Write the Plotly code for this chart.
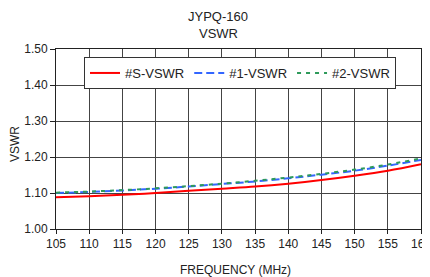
import plotly.graph_objects as go

freq = [105, 110, 115, 120, 125, 130, 135, 140, 145, 150, 155, 160]
s_vswr = [1.088, 1.091, 1.095, 1.100, 1.106, 1.112, 1.118, 1.126, 1.136, 1.148, 1.162, 1.180]
v1_vswr = [1.100, 1.103, 1.107, 1.112, 1.118, 1.125, 1.132, 1.141, 1.151, 1.162, 1.176, 1.192]
v2_vswr = [1.101, 1.104, 1.108, 1.113, 1.119, 1.126, 1.134, 1.143, 1.153, 1.165, 1.179, 1.196]

x_ticks = [105, 110, 115, 120, 125, 130, 135, 140, 145, 150, 155, 160]
y_ticks = [1.00, 1.10, 1.20, 1.30, 1.40, 1.50]

FONT = "Liberation Sans, Arial, sans-serif"
# page has an 8px body margin, so the figure is drawn 8px smaller and offset
OFF = 8
W, HT = 430 - OFF, 277 - OFF
L, R = 56 - OFF, 421 - OFF
T, B = 49 - OFF, 229 - OFF
PW, H = R - L, B - T

fig = go.Figure()
fig.add_trace(go.Scatter(x=freq, y=s_vswr, name="#S-VSWR", mode="lines",
                         line=dict(color="#ff0000", width=2, shape="spline")))
fig.add_trace(go.Scatter(x=freq, y=v1_vswr, name="#1-VSWR", mode="lines",
                         line=dict(color="#3366ff", width=2, dash="8px,4px", shape="spline")))
fig.add_trace(go.Scatter(x=freq, y=v2_vswr, name="#2-VSWR", mode="lines",
                         line=dict(color="#2e9a5a", width=2, dash="4px,5px", shape="spline")))

fig.update_layout(
    width=W, height=HT,
    margin=dict(l=L, r=W - R, t=T, b=HT - B, autoexpand=False),
    paper_bgcolor="white", plot_bgcolor="white",
    font=dict(family=FONT, size=12, color="#222"),
    legend=dict(orientation="h", x=(240 - 56) / PW, xanchor="center", y=1 - 8 / H, yanchor="top",
                bordercolor="#333", borderwidth=1, bgcolor="white",
                font=dict(size=13), tracegroupgap=0),
    showlegend=True,
    annotations=[
        dict(text="JYPQ-160", xref="paper", yref="paper", x=(218 - 56) / PW, y=1.0 + (49 - 17) / H,
             xanchor="center", yanchor="middle", showarrow=False, font=dict(size=13, color="#222")),
        dict(text="VSWR", xref="paper", yref="paper", x=(218 - 56) / PW, y=1.0 + (49 - 33) / H,
             xanchor="center", yanchor="middle", showarrow=False, font=dict(size=13, color="#222")),
        dict(text="VSWR", xref="paper", yref="paper", x=(15 - 56) / PW, y=(229 - 144) / H,
             xanchor="center", yanchor="middle", textangle=-90, showarrow=False,
             font=dict(size=12, color="#222")),
        dict(text="FREQUENCY (MHz)", xref="paper", yref="paper", x=(235 - 56) / PW,
             y=(229 - 270) / H, xanchor="center", yanchor="middle", showarrow=False,
             font=dict(size=12, color="#222")),
    ],
)
fig.update_xaxes(range=[105, 160], tickvals=x_ticks, ticktext=[str(v) for v in x_ticks],
                 showgrid=True, gridcolor="#444", gridwidth=1,
                 showline=True, linecolor="#222", linewidth=1, mirror=True,
                 ticks="outside", ticklen=4, tickcolor="#222",
                 ticklabeloverflow="allow", automargin=False,
                 zeroline=False)
fig.update_yaxes(range=[1.0, 1.5], tickvals=y_ticks, ticktext=[f"{v:.2f}" for v in y_ticks],
                 showgrid=True, gridcolor="#444", gridwidth=1,
                 showline=True, linecolor="#222", linewidth=1, mirror=True,
                 ticks="outside", ticklen=5, tickcolor="#222", automargin=False,
                 zeroline=False)

fig.write_html("out.html")
